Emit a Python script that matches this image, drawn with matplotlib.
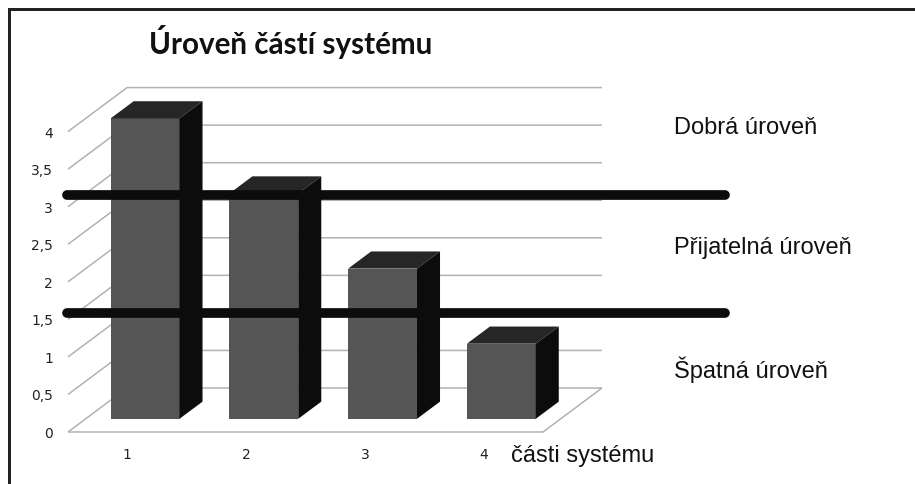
import matplotlib
matplotlib.use('Agg')
import matplotlib.pyplot as plt
from matplotlib.patches import Rectangle

categories = [1, 2, 3, 4]
values = [4, 3, 2, 1]
y_ticks = [0, 0.5, 1, 1.5, 2, 2.5, 3, 3.5, 4]
y_tick_labels = ['0', '0,5', '1', '1,5', '2', '2,5', '3', '3,5', '4']
thresholds = [3.16, 1.58]
title = 'Úroveň částí systému'
level_labels = ['Dobrá úroveň', 'Přijatelná úroveň', 'Špatná úroveň']
x_title = 'části systému'

W, H = 915, 484
PX_X = 118.75   # pixels per category
PX_Y = 75.1     # pixels per value unit
X0, Y0 = 68, 432  # front floor corner
DEPTH_X = 59 / PX_X
DEPTH_Y = 44 / PX_Y
BAR_FRONT = 0.30
BAR_BACK = 0.69
BAR_W = 0.58

fig = plt.figure(figsize=(W / 100, H / 100), dpi=100)
ax = fig.add_axes([0, 0, 1, 1])
ax.set_xlim(0.5 - X0 / PX_X, 0.5 + (W - X0) / PX_X)
ax.set_ylim(-(H - Y0) / PX_Y, Y0 / PX_Y)
ax.axis('off')


def proj(x, v, d):
    return x + d * DEPTH_X, v + d * DEPTH_Y


def line3d(pts, **kw):
    p = [proj(*q) for q in pts]
    ax.plot([a[0] for a in p], [a[1] for a in p], **kw)


def face(pts, color):
    p = [proj(*q) for q in pts]
    ax.fill([a[0] for a in p], [a[1] for a in p], color=color, lw=0, zorder=3)


def fig_text(px, py, s, **kw):
    fig.text(px / W, 1 - py / H, s, **kw)


left, right = categories[0] - 0.5, categories[-1] + 0.5
grid = dict(color='#b2b2b2', lw=1.1, zorder=1, solid_capstyle='butt')
for v in y_ticks:
    line3d([(left, v, 0), (left, v, 1), (right, v, 1)], **grid)
line3d([(left, 0, 0), (right, 0, 0), (right, 0, 1)], **grid)

for c, v in zip(categories, values):
    x1, x2 = c - BAR_W / 2, c + BAR_W / 2
    face([(x1, 0, BAR_FRONT), (x2, 0, BAR_FRONT), (x2, v, BAR_FRONT), (x1, v, BAR_FRONT)], '#555555')
    face([(x1, v, BAR_FRONT), (x2, v, BAR_FRONT), (x2, v, BAR_BACK), (x1, v, BAR_BACK)], '#262626')
    face([(x2, 0, BAR_FRONT), (x2, 0, BAR_BACK), (x2, v, BAR_BACK), (x2, v, BAR_FRONT)], '#0c0c0c')

for t in thresholds:
    ax.plot([0.5 - 1 / PX_X, 0.5 + 657 / PX_X], [t, t], color='#0c0c0c', lw=7,
            solid_capstyle='round', zorder=4)

for v, s in zip(y_ticks, y_tick_labels):
    ax.text(0.5 - 15 / PX_X, v - 2 / PX_Y, s, ha='right', va='center', fontsize=10,
            family='DejaVu Sans', color='#222222')
for c in categories:
    ax.text(c, -23 / PX_Y, str(c), ha='center', va='center', fontsize=10,
            family='DejaVu Sans', color='#222222')

fig_text(149, 42, title, fontsize=21.3, family='Lato', fontweight='bold', color='#111111',
         ha='left', va='center')
for (py, s) in zip([128, 248, 370], level_labels):
    fig_text(674, py, s, fontsize=17, family='Liberation Sans', color='#111111',
             ha='left', va='center')
fig_text(511, 456, x_title, fontsize=17, family='Liberation Sans', color='#111111',
         ha='left', va='center')

# frame only on top and left, as in the picture
fig.add_artist(Rectangle((8 / W, -0.1), 3 / W, 1.1 - 8 / H, transform=fig.transFigure, color='#222222', lw=0))
fig.add_artist(Rectangle((8 / W, 1 - 11 / H), 1.1, 3 / H, transform=fig.transFigure, color='#222222', lw=0))

plt.savefig('out.png', dpi=100)
plt.close()
